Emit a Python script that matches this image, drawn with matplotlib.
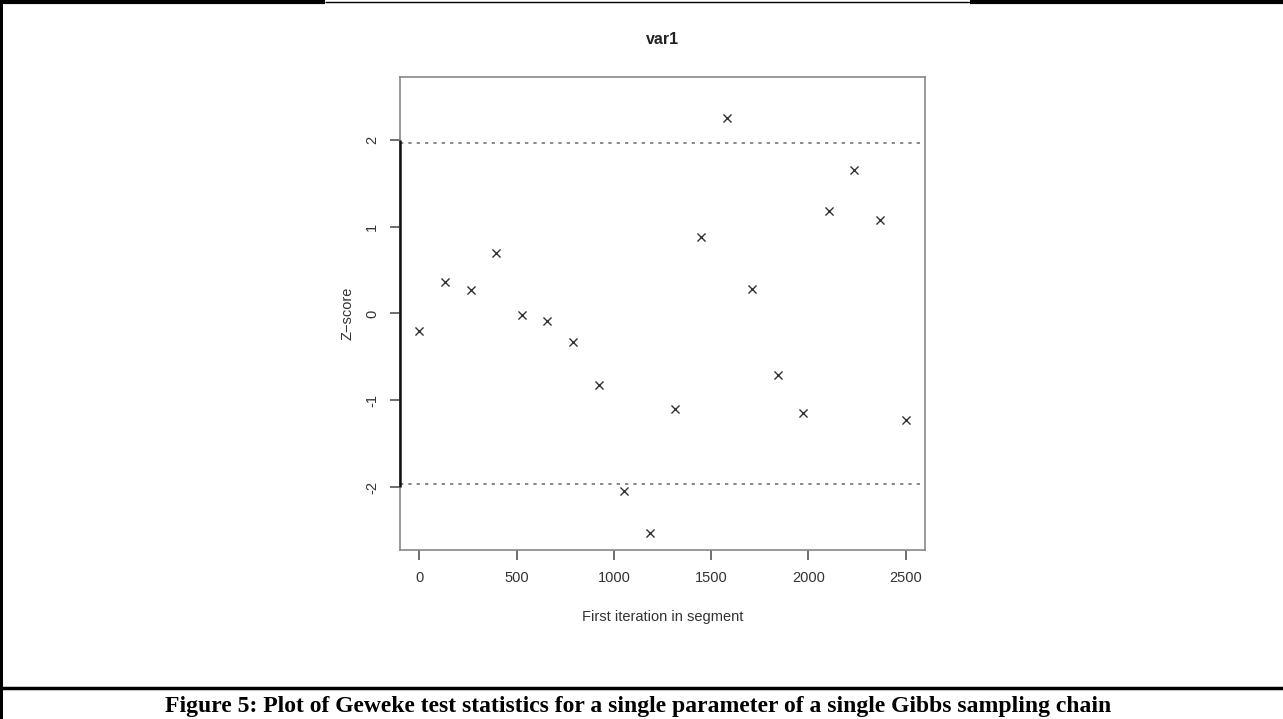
import numpy as np
import matplotlib.pyplot as plt
from matplotlib.lines import Line2D

# first iteration of each segment and its Geweke z-score
first_iter = [0, 132, 263, 395, 526, 658, 789, 921, 1053, 1184,
              1316, 1447, 1579, 1711, 1842, 1974, 2105, 2237, 2368, 2500]
z_score = [-0.20, 0.36, 0.27, 0.70, -0.02, -0.09, -0.33, -0.82, -2.04, -2.52,
           -1.10, 0.88, 2.25, 0.28, -0.71, -1.15, 1.18, 1.65, 1.08, -1.22]
bounds = [-1.96, 1.96]
x_ticks = [0, 500, 1000, 1500, 2000, 2500]
y_ticks = [-2, -1, 0, 1, 2]

title = "var1"
x_label = "First iteration in segment"
y_label = "Z\u2212score"
caption = ("Figure 5: Plot of Geweke test statistics for a single parameter "
           "of a single Gibbs sampling chain")

plt.rcParams['font.family'] = ['Liberation Sans', 'DejaVu Sans']

fig = plt.figure(figsize=(12.83, 7.19), dpi=100)
ax = fig.add_axes([0.3118, 0.235, 0.4092, 0.658])

ax.scatter(first_iter, z_score, marker='x', s=34, color='#333333', linewidths=1.0)
for b in bounds:
    ax.axhline(b, color='#777777', linestyle=(0, (2, 3)), linewidth=1.2)

ylim = max(2, np.max(np.abs(z_score))) * 1.08
ax.set_xlim(-100, 2600)
ax.set_ylim(-ylim, ylim)

ax.set_xticks(x_ticks)
ax.set_yticks(y_ticks)
ax.set_yticklabels([str(v) for v in y_ticks], rotation=90, va='center')
ax.tick_params(direction='out', length=7, width=1.2, color='#555555',
               labelsize=10.5, labelcolor='#333333', pad=8)

for s in ax.spines.values():
    s.set_color('#888888')
    s.set_linewidth(1.2)
ax.vlines(0, y_ticks[0], y_ticks[-1], transform=ax.get_yaxis_transform(),
          color='#111111', linewidth=1.8, clip_on=False, zorder=5)

ax.set_title(title, fontsize=11.5, fontweight='bold', color='#222222', pad=24)
ax.set_xlabel(x_label, fontsize=10.5, color='#333333', labelpad=18)
ax.set_ylabel(y_label, fontsize=10.5, color='#333333', labelpad=8)

# page frame around the figure and the caption
frame = dict(transform=fig.transFigure, color='black', solid_capstyle='butt')
fig.add_artist(Line2D([0.001, 0.001], [0, 0.998], linewidth=2.2, **frame))
fig.add_artist(Line2D([0, 0.253], [0.997, 0.997], linewidth=3, **frame))
fig.add_artist(Line2D([0.253, 0.756], [0.997, 0.997], linewidth=1, **frame))
fig.add_artist(Line2D([0.756, 1], [0.997, 0.997], linewidth=3, **frame))
fig.add_artist(Line2D([0, 1], [0.043, 0.043], linewidth=2.5, **frame))
fig.text(0.497, 0.018, caption, ha='center', va='center', fontsize=17,
         fontweight='bold', family=['Liberation Serif', 'DejaVu Serif'])

fig.savefig('out.png', dpi=100)
